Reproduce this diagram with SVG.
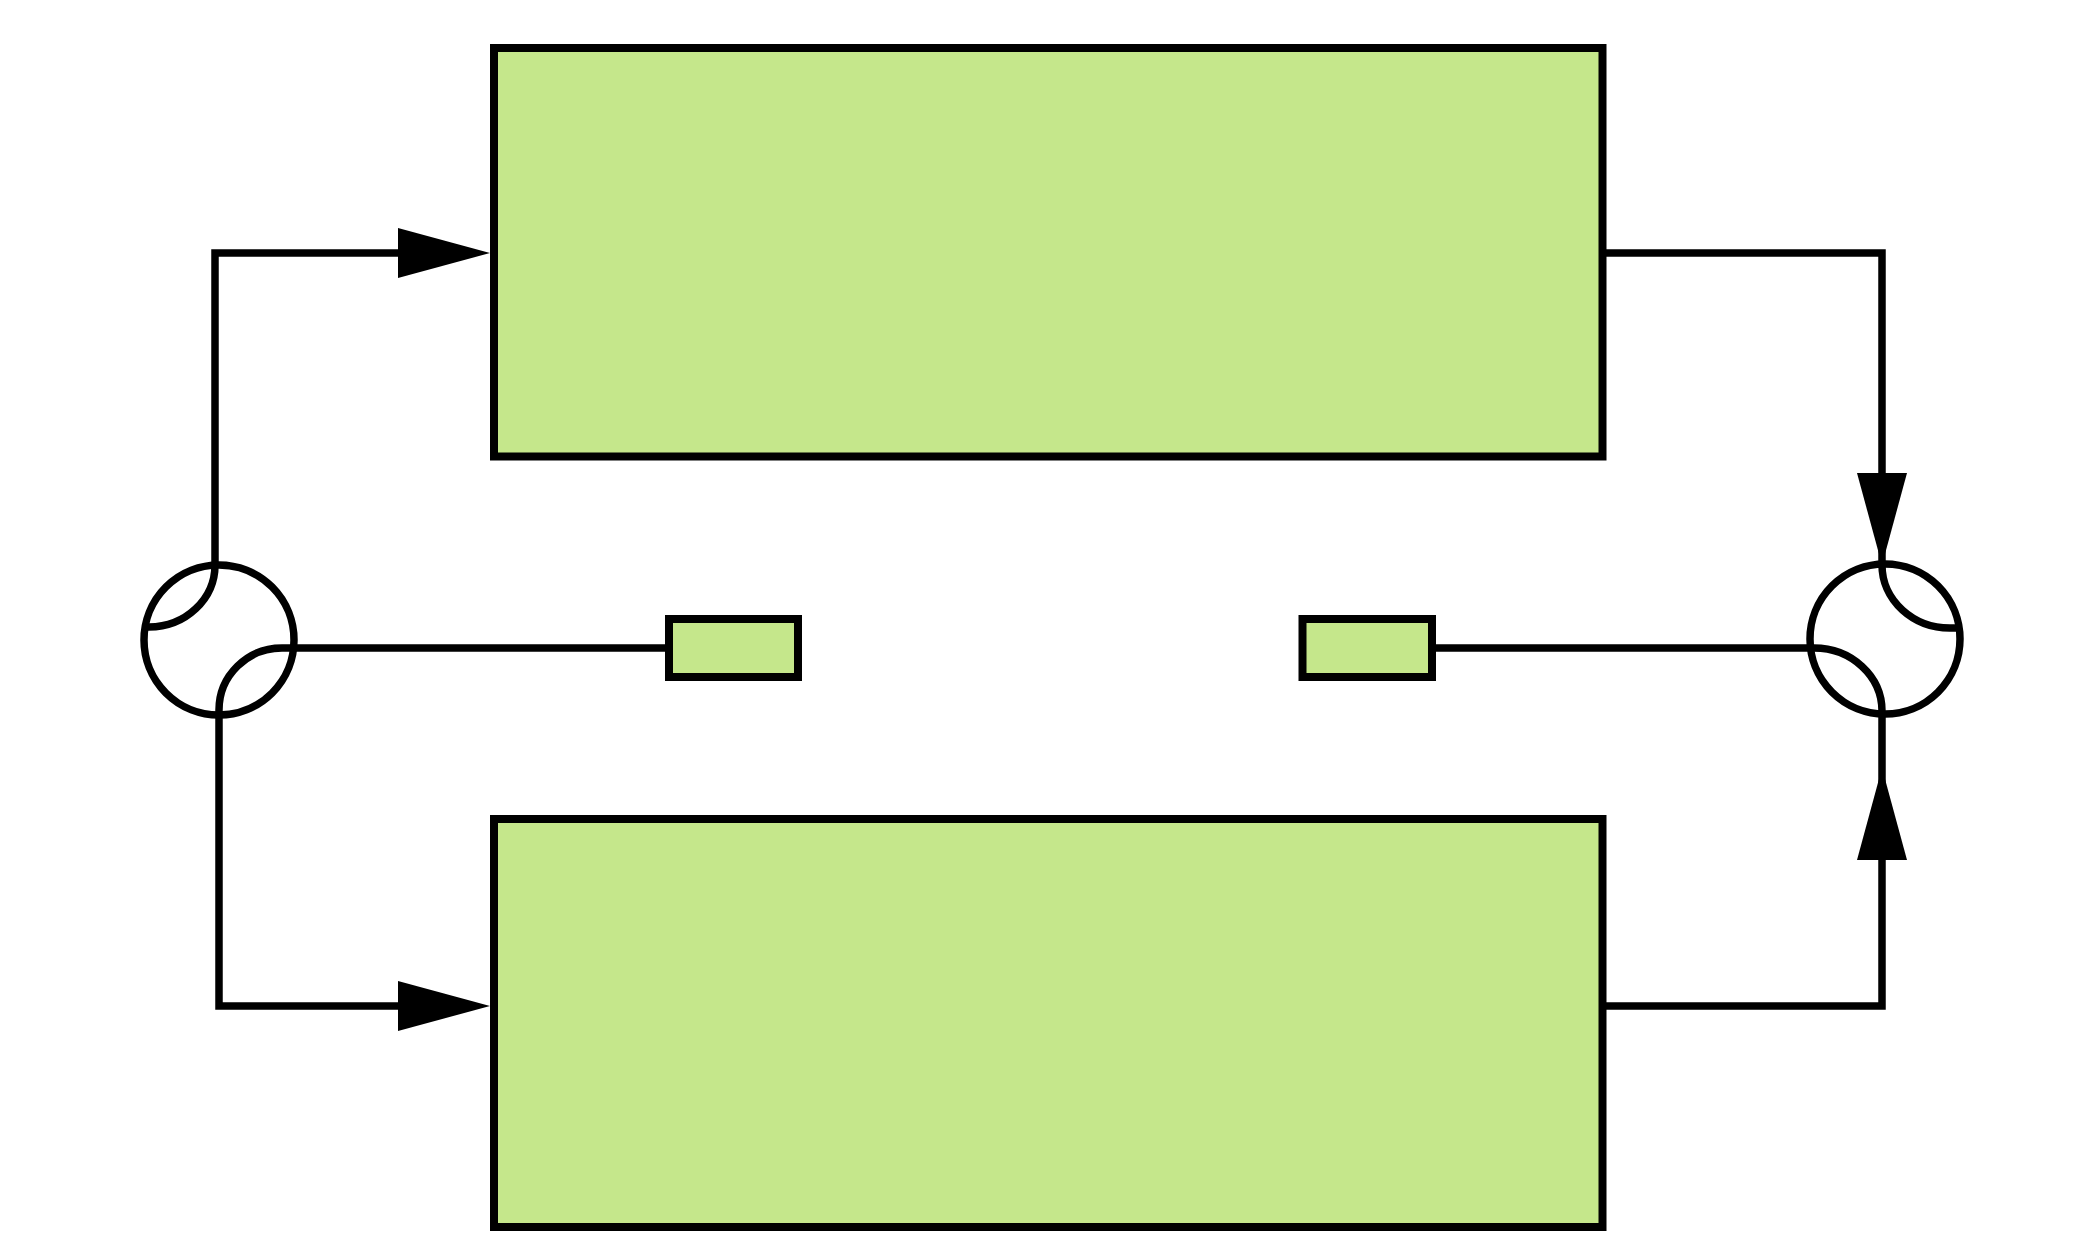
<svg xmlns="http://www.w3.org/2000/svg" width="2084" height="1251" viewBox="0 0 2084 1251">
<style>
.box{fill:#c5e78b;stroke:#000;stroke-width:8}
.junc{fill:none;stroke:#000;stroke-width:7.5}
.conn{fill:none;stroke:#000;stroke-width:7.5}
.head{fill:#000;stroke:none}
</style>
<defs>
<path id="ah" class="head" d="M-92,-25 L0,0 L-92,25 z"/>
</defs>
<rect width="2084" height="1251" fill="#fff"/>
<g id="top-block"><rect class="box" x="494" y="48" width="1108.5" height="408.5"/></g>
<g id="bottom-block"><rect class="box" x="494" y="819" width="1108.5" height="408"/></g>
<g id="small-left"><rect class="box" x="669" y="619" width="129" height="58"/></g>
<g id="small-right"><rect class="box" x="1302.5" y="619" width="129.5" height="58"/></g>
<g id="junction-left"><circle class="junc" cx="219" cy="640" r="75"/></g>
<g id="junction-right"><circle class="junc" cx="1885" cy="639" r="75"/></g>
<g id="connectors">
<path class="conn" d="M144,627 L149,627 A66 62 0 0 0 215,565 L215,253 L400,253"/>
<use href="#ah" transform="translate(490,253)"/>
<path class="conn" d="M669,648 L282,648 A63 62 0 0 0 219,710 L219,1006 L400,1006"/>
<use href="#ah" transform="translate(490,1006)"/>
<path class="conn" d="M1602,253 L1882,253 L1882,565"/>
<use href="#ah" transform="translate(1882,565) rotate(90)"/>
<path class="conn" d="M1882,565 A68 63 0 0 0 1952,628 L1960,628"/>
<path class="conn" d="M1602,1006 L1882,1006 L1882,768"/>
<use href="#ah" transform="translate(1882,768) rotate(-90)"/>
<path class="conn" d="M1432,648 L1814,648 A68 63 0 0 1 1882,711 L1882,768"/>
</g>
</svg>
